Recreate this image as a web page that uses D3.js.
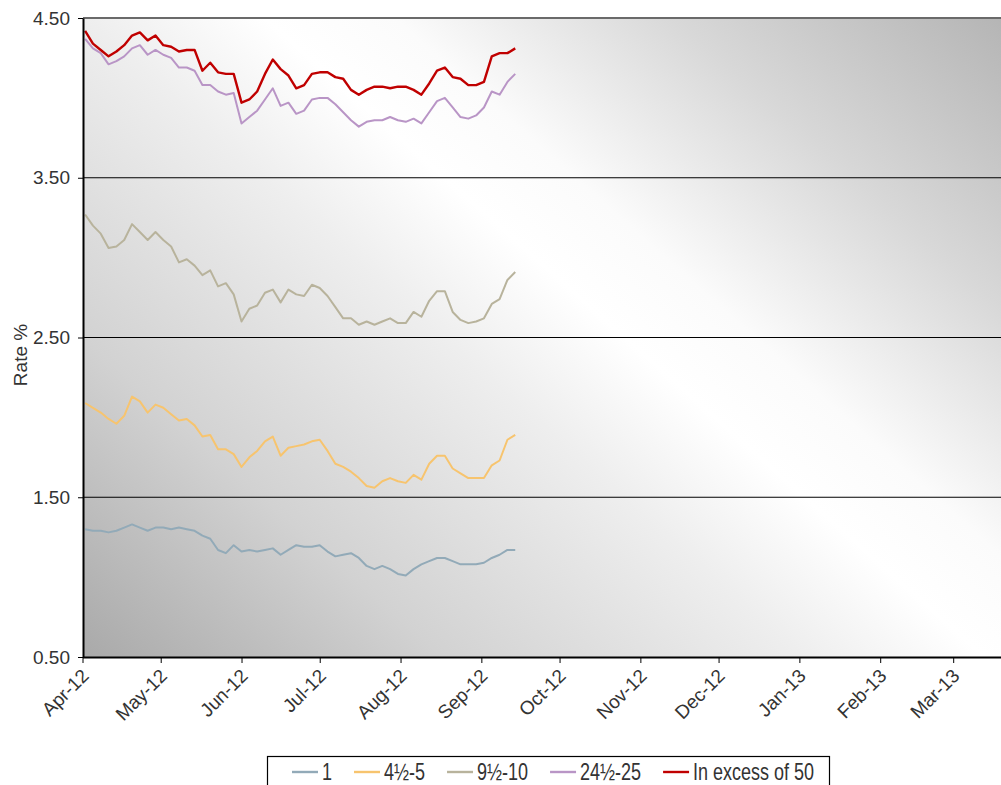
<!DOCTYPE html>
<html>
<head>
<meta charset="utf-8">
<script src="https://cdn.jsdelivr.net/npm/d3@7/dist/d3.min.js"></script>
<style>
body { margin: 0; background: #fff; }
text { font-family: "Liberation Sans", Arial, sans-serif; fill: #333; }
</style>
</head>
<body>
<div id="chart"></div>
<script>
// rates, every three days
var dates = ["2012-04-02","2012-04-05","2012-04-08","2012-04-11","2012-04-14","2012-04-17","2012-04-20","2012-04-23",
  "2012-04-26","2012-04-29","2012-05-02","2012-05-05","2012-05-08","2012-05-11","2012-05-14","2012-05-17",
  "2012-05-20","2012-05-23","2012-05-26","2012-05-29","2012-06-01","2012-06-04","2012-06-07","2012-06-10",
  "2012-06-13","2012-06-16","2012-06-19","2012-06-22","2012-06-25","2012-06-28","2012-07-01","2012-07-04",
  "2012-07-07","2012-07-10","2012-07-13","2012-07-16","2012-07-19","2012-07-22","2012-07-25","2012-07-28",
  "2012-07-31","2012-08-03","2012-08-06","2012-08-09","2012-08-12","2012-08-15","2012-08-18","2012-08-21",
  "2012-08-24","2012-08-27","2012-08-30","2012-09-02","2012-09-05","2012-09-08","2012-09-11","2012-09-14"];

var rate1 = [1.30,1.29,1.29,1.28,1.29,1.31,1.33,1.31,1.29,1.31,1.31,1.30,1.31,1.30,1.29,1.26,
  1.24,1.17,1.15,1.20,1.16,1.17,1.16,1.17,1.18,1.14,1.17,1.20,1.19,1.19,1.20,1.16,
  1.13,1.14,1.15,1.12,1.07,1.05,1.07,1.05,1.02,1.01,1.05,1.08,1.10,1.12,1.12,1.10,
  1.08,1.08,1.08,1.09,1.12,1.14,1.17,1.17];

var rate5 = [2.09,2.06,2.03,1.99,1.96,2.01,2.13,2.10,2.03,2.08,2.06,2.02,1.98,1.99,1.95,1.88,
  1.89,1.80,1.80,1.77,1.69,1.75,1.79,1.85,1.88,1.76,1.81,1.82,1.83,1.85,1.86,1.79,
  1.71,1.69,1.66,1.62,1.57,1.56,1.60,1.62,1.60,1.59,1.64,1.61,1.71,1.76,1.76,1.68,
  1.65,1.62,1.62,1.62,1.70,1.73,1.86,1.89];

var rate10 = [3.27,3.20,3.15,3.06,3.07,3.11,3.21,3.16,3.11,3.16,3.11,3.07,2.97,2.99,2.95,2.89,
  2.92,2.82,2.84,2.77,2.60,2.68,2.70,2.78,2.80,2.72,2.80,2.77,2.76,2.83,2.81,2.76,
  2.69,2.62,2.62,2.58,2.60,2.58,2.60,2.62,2.59,2.59,2.66,2.63,2.73,2.79,2.79,2.66,
  2.61,2.59,2.60,2.62,2.71,2.74,2.86,2.91];

var rate25 = [4.37,4.31,4.28,4.21,4.23,4.26,4.31,4.33,4.27,4.30,4.27,4.25,4.19,4.19,4.17,4.08,
  4.08,4.04,4.02,4.03,3.84,3.88,3.92,3.99,4.06,3.95,3.97,3.90,3.92,3.99,4.00,4.00,
  3.96,3.91,3.86,3.82,3.85,3.86,3.86,3.88,3.86,3.85,3.87,3.84,3.91,3.98,4.00,3.94,
  3.88,3.87,3.89,3.94,4.04,4.02,4.10,4.15];

var rate50 = [4.42,4.34,4.30,4.26,4.29,4.33,4.39,4.41,4.36,4.39,4.33,4.32,4.29,4.30,4.30,4.17,
  4.22,4.16,4.15,4.15,3.97,3.99,4.04,4.15,4.24,4.18,4.14,4.06,4.08,4.15,4.16,4.16,
  4.13,4.12,4.05,4.02,4.05,4.07,4.07,4.06,4.07,4.07,4.05,4.02,4.09,4.17,4.19,4.13,
  4.12,4.08,4.08,4.10,4.26,4.28,4.28,4.31];

var seriesNames = ["1", "4\u00bd-5", "9\u00bd-10", "24\u00bd-25", "In excess of 50"];
var seriesColors = ["#92aab8", "#f7c46e", "#b8b39c", "#b995c6", "#c00000"];
var yTicks = [0.5, 1.5, 2.5, 3.5, 4.5];

var allSeries = [rate1, rate5, rate10, rate25, rate50];

var width = 1001, height = 785;
var plotLeft = 83, plotTop = 18, plotBottom = 657;

var svg = d3.select("#chart").append("svg").attr("width", width).attr("height", height);

var parse = d3.timeParse("%Y-%m-%d");
var x = d3.scaleTime()
  .domain([new Date(2012, 3, 1), new Date(2013, 3, 1)])
  .range([82.5, 1034]);
var y = d3.scaleLinear().domain([0.5, 4.5]).range([plotBottom, plotTop]);

// background: grey corners bottom-left / top-right, white band across
var defs = svg.append("defs");
var grad = defs.append("linearGradient").attr("id", "bg")
  .attr("gradientUnits", "userSpaceOnUse")
  .attr("x1", 221).attr("y1", 780).attr("x2", 943).attr("y2", -34);
[[0, "#a9a9a9"], [0.22, "#d2d2d2"], [0.44, "#eeeeee"], [0.55, "#ffffff"], [0.63, "#fbfbfb"], [0.8, "#d8d8d8"], [1, "#b5b5b5"]]
  .forEach(function(s) { grad.append("stop").attr("offset", s[0]).attr("stop-color", s[1]); });

svg.append("rect")
  .attr("x", plotLeft).attr("y", plotTop)
  .attr("width", x.range()[1] - plotLeft).attr("height", plotBottom - plotTop)
  .attr("fill", "url(#bg)");

// gridlines
svg.append("g").selectAll("line")
  .data(yTicks.filter(function(d) { return d > 0.5; }))
  .join("line")
  .attr("x1", plotLeft).attr("x2", x.range()[1])
  .attr("y1", function(d) { return y(d); }).attr("y2", function(d) { return y(d); })
  .attr("stroke", function(d) { return d == 4.5 ? "#6a6a6a" : "#000"; })
  .attr("stroke-width", function(d) { return d == 4.5 ? 2 : 1.2; });

// lines
var line = d3.line()
  .x(function(d, i) { return x(parse(dates[i])); })
  .y(function(d) { return y(d); });

svg.append("g").selectAll("path")
  .data(allSeries)
  .join("path")
  .attr("d", line)
  .attr("fill", "none")
  .attr("stroke", function(d, i) { return seriesColors[i]; })
  .attr("stroke-width", function(d, i) { return i == 4 ? 2.4 : 2; })
  .attr("stroke-linejoin", "round");

// y axis
var yAxis = svg.append("g")
  .attr("transform", "translate(" + plotLeft + ",0)")
  .call(d3.axisLeft(y).tickValues(yTicks).tickFormat(d3.format(".2f")).tickSize(5).tickSizeOuter(0).tickPadding(8));
yAxis.select(".domain").attr("stroke", "#000").attr("stroke-width", 2);
yAxis.selectAll(".tick line").attr("stroke", "#000");
yAxis.selectAll("text").style("font-size", "19px").attr("fill", "#333");

// x axis
var xAxis = svg.append("g")
  .attr("transform", "translate(0," + plotBottom + ")")
  .call(d3.axisBottom(x).ticks(d3.timeMonth.every(1)).tickFormat(d3.timeFormat("%b-%y")).tickSize(6).tickSizeOuter(0));
xAxis.select(".domain").attr("stroke", "#000").attr("stroke-width", 2.2);
xAxis.selectAll(".tick line").attr("stroke", "#000");
xAxis.selectAll(".tick").filter(function(d) { return d >= new Date(2013, 3, 1); }).remove();
xAxis.selectAll("text")
  .style("font-size", "19px")
  .attr("fill", "#333")
  .attr("text-anchor", "end")
  .attr("y", 0).attr("dy", 0)
  .attr("transform", "translate(7,20) rotate(-45)");

// y title
svg.append("text")
  .attr("transform", "translate(27,355) rotate(-90)")
  .attr("text-anchor", "middle")
  .style("font-size", "19px")
  .text("Rate %");

// legend
var legend = svg.append("g");
legend.append("rect")
  .attr("x", 267.5).attr("y", 756.5).attr("width", 562).attr("height", 50)
  .attr("fill", "#fff").attr("stroke", "#000").attr("stroke-width", 1.2);

var lx = 292;
var sx = 0.75;
seriesNames.forEach(function(name, i) {
  legend.append("line")
    .attr("x1", lx).attr("x2", lx + 26)
    .attr("y1", 772).attr("y2", 772)
    .attr("stroke", seriesColors[i]).attr("stroke-width", 2.4);
  var t = legend.append("text")
    .attr("transform", "translate(" + (lx + 30) + ",780) scale(" + sx + ",1)")
    .style("font-size", "24px")
    .text(name);
  lx += 30 + t.node().getComputedTextLength() * sx + 22;
});
</script>
</body>
</html>
